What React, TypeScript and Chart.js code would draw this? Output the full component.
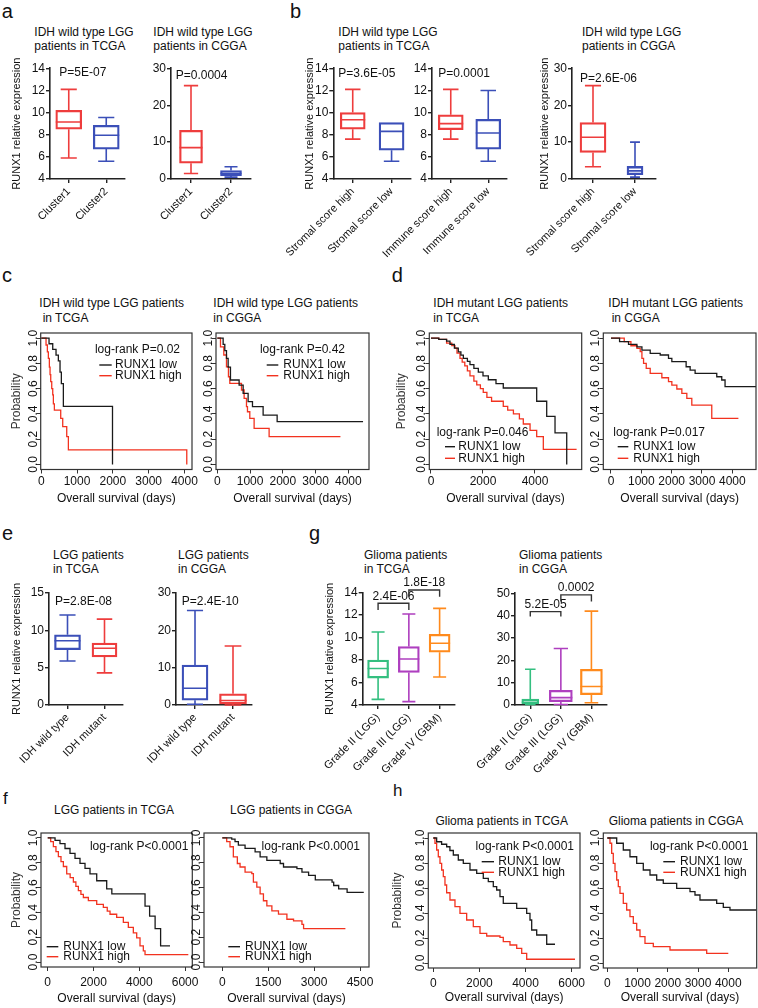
import React, { useEffect, useRef } from 'react';
import { Chart, registerables } from 'chart.js';

Chart.register(...registerables);

const FONT = "'Liberation Sans', Arial, Helvetica, sans-serif";
Chart.defaults.font.family = FONT;
Chart.defaults.color = '#111';

const AX = '#222';
const RED = '#ee3d3d';
const BLUE = '#3b4fb8';
const GREEN = '#34bf80';
const PURPLE = '#ae3fbf';
const ORANGE = '#ff8a1c';
const KM_LOW = '#1a1a1a';
const KM_HIGH = '#f2321f';

// ---------- categories ----------
const clusterCats = ['Cluster1', 'Cluster2'];
const stromalCats = ['Stromal score high', 'Stromal score low'];
const immuneCats = ['Immune score high', 'Immune score low'];
const idhCats = ['IDH wild type', 'IDH mutant'];
const gradeCats = ['Grade II (LGG)', 'Grade III (LGG)', 'Grade IV (GBM)'];

// ---------- box stats: [min, q1, median, q3, max] ----------
const aTcgaStats = [[5.9, 8.5, 9.15, 10.2, 12.1], [5.6, 6.7, 7.95, 8.85, 9.55]];
const aCggaStats = [[1.5, 4.3, 8.5, 13.2, 25.3], [0.5, 0.9, 1.5, 2.3, 3.3]];
const bStromalTcgaStats = [[7.6, 8.5, 9.35, 10.0, 12.1], [5.6, 6.6, 8.3, 9.1, 9.1]];
const bImmuneTcgaStats = [[7.6, 8.45, 9.0, 9.8, 12.1], [5.6, 6.7, 8.15, 9.4, 12.0]];
const bStromalCggaStats = [[3.3, 7.2, 11.3, 15.3, 25.3], [0.5, 1.2, 2.2, 3.4, 10.0]];
const eTcgaStats = [[5.9, 7.4, 8.6, 9.4, 12.05], [4.3, 6.45, 7.6, 8.3, 11.5]];
const eCggaStats = [[0.2, 1.3, 4.5, 10.7, 25.3], [0, 0.3, 1.2, 3.0, 15.8]];
const gTcgaStats = [[4.5, 6.4, 7.25, 8.0, 10.5], [4.3, 6.9, 8.1, 9.2, 12.1], [6.5, 8.7, 9.5, 10.3, 12.6]];
const gCggaStats = [[0.2, 0.5, 1.2, 2.7, 16], [0.2, 1.5, 3.3, 6.6, 25.3], [1.0, 4.6, 8.3, 16, 42]];

// ---------- p-values ----------
const aPvals = ['P=5E-07', 'P=0.0004'];
const bPvals = ['P=3.6E-05', 'P=0.0001', 'P=2.6E-06'];
const ePvals = ['P=2.8E-08', 'P=2.4E-10'];
const gTcgaBrackets = [
  { a: 0, b: 1, top: 13.06, drop: 12.46, label: '2.4E-06' },
  { a: 1, b: 2, top: 14.24, drop: 13.64, label: '1.8E-18' },
];
const gCggaBrackets = [
  { a: 0, b: 1, top: 41.8, drop: 39.6, label: '5.2E-05' },
  { a: 1, b: 2, top: 49.3, drop: 46.3, label: '0.0002' },
];

// ---------- Kaplan-Meier tick labels ----------
const kmYTicks = [0, 0.2, 0.4, 0.6, 0.8, 1.0];
const ticks1000 = [0, 1000, 2000, 3000, 4000];
const ticks2000to4000 = [0, 2000, 4000];
const ticks2000to6000 = [0, 2000, 4000, 6000];
const ticks1500 = [0, 1500, 3000, 4500];

// ---------- Kaplan-Meier curves: [days, survival] ----------
const c1Low = [[0, 1], [218, 0.955], [321, 0.91], [413, 0.865], [478, 0.82], [525, 0.73], [562, 0.64], [618, 0.46], [1990, 0]];
const c1High = [[0, 1], [134, 0.945], [171, 0.89], [199, 0.84], [227, 0.77], [246, 0.71], [265, 0.655], [293, 0.6], [321, 0.55], [339, 0.48], [367, 0.43], [544, 0.365], [600, 0.3], [712, 0.22], [758, 0.115], [4064, 0]];
const c2Low = [[0, 1], [178, 0.95], [229, 0.9], [280, 0.84], [331, 0.77], [402, 0.668], [666, 0.628], [789, 0.563], [941, 0.497], [1074, 0.457], [1399, 0.391], [1827, 0.339], [4450, 0.339]];
const c2High = [[0, 1], [97, 0.93], [198, 0.866], [280, 0.773], [340, 0.694], [382, 0.642], [738, 0.589], [819, 0.523], [891, 0.457], [921, 0.417], [992, 0.365], [1124, 0.286], [1582, 0.22], [3760, 0.22]];
const d1Low = [[0, 1], [300, 0.99], [600, 0.975], [730, 0.95], [900, 0.92], [1050, 0.89], [1150, 0.865], [1245, 0.84], [1400, 0.815], [1500, 0.79], [1650, 0.76], [1820, 0.73], [2000, 0.7], [2205, 0.67], [2500, 0.64], [2780, 0.605], [4065, 0.5], [4450, 0.38], [4770, 0.25], [5220, 0]];
const d1High = [[0, 1], [300, 0.99], [600, 0.96], [800, 0.94], [920, 0.92], [1000, 0.88], [1115, 0.84], [1200, 0.81], [1300, 0.78], [1400, 0.74], [1500, 0.7], [1650, 0.66], [1760, 0.63], [1900, 0.6], [2010, 0.57], [2150, 0.53], [2330, 0.5], [2780, 0.46], [2950, 0.43], [3170, 0.4], [3400, 0.36], [3550, 0.32], [3810, 0.27], [4065, 0.22], [4320, 0.12], [5600, 0.12]];
const d2Low = [[0, 1], [283, 0.971], [579, 0.95], [855, 0.931], [1020, 0.905], [1293, 0.879], [1622, 0.866], [1896, 0.84], [2006, 0.813], [2477, 0.773], [2609, 0.747], [2773, 0.721], [3487, 0.694], [3651, 0.668], [3760, 0.615], [4780, 0.615]];
const d2High = [[0, 1], [437, 0.971], [657, 0.939], [855, 0.918], [964, 0.892], [1020, 0.84], [1074, 0.8], [1162, 0.76], [1293, 0.721], [1677, 0.686], [1896, 0.655], [2006, 0.628], [2171, 0.597], [2336, 0.563], [2500, 0.523], [2664, 0.47], [3322, 0.365], [4200, 0.365]];
const f1Low = [[0, 1], [320, 0.98], [537, 0.955], [755, 0.915], [974, 0.875], [1192, 0.835], [1410, 0.795], [1629, 0.755], [1847, 0.71], [2140, 0.655], [2576, 0.59], [2800, 0.55], [4250, 0.45], [4450, 0.37], [4690, 0.27], [4930, 0.13], [5340, 0.13]];
const f1High = [[0, 1], [130, 0.97], [247, 0.93], [360, 0.89], [466, 0.85], [580, 0.81], [684, 0.77], [830, 0.71], [980, 0.68], [1121, 0.645], [1230, 0.61], [1339, 0.575], [1450, 0.545], [1557, 0.52], [1775, 0.495], [2140, 0.465], [2430, 0.44], [2600, 0.41], [2721, 0.385], [3012, 0.36], [3303, 0.32], [3521, 0.28], [3739, 0.235], [3886, 0.195], [4031, 0.13], [4175, 0.09], [4250, 0.06], [6140, 0.06]];
const f2Low = [[0, 1], [308, 0.99], [416, 0.97], [525, 0.943], [744, 0.916], [1072, 0.888], [1236, 0.847], [1456, 0.82], [1892, 0.794], [2000, 0.766], [2439, 0.753], [2603, 0.725], [2820, 0.698], [3039, 0.663], [3587, 0.644], [3640, 0.617], [3803, 0.59], [4079, 0.562], [4623, 0.562]];
const f2High = [[0, 1], [144, 0.97], [252, 0.929], [361, 0.847], [492, 0.794], [580, 0.766], [744, 0.725], [964, 0.712], [1016, 0.644], [1128, 0.603], [1236, 0.549], [1344, 0.494], [1456, 0.453], [1620, 0.413], [1836, 0.386], [2111, 0.345], [2328, 0.331], [2603, 0.304], [2656, 0.27], [4023, 0.27]];
const h1Low = [[0, 1], [145, 0.97], [360, 0.95], [580, 0.93], [720, 0.9], [868, 0.864], [1084, 0.824], [1301, 0.797], [1591, 0.744], [1882, 0.717], [2168, 0.677], [2385, 0.651], [2602, 0.611], [2749, 0.584], [2892, 0.531], [3035, 0.477], [3617, 0.437], [4050, 0.397], [4193, 0.344], [4267, 0.264], [4484, 0.224], [4918, 0.15], [5278, 0.15]];
const h1High = [[0, 1], [72, 0.958], [145, 0.904], [217, 0.85], [290, 0.797], [362, 0.744], [434, 0.691], [506, 0.624], [578, 0.562], [723, 0.504], [940, 0.451], [1157, 0.397], [1447, 0.344], [1735, 0.291], [2025, 0.237], [2316, 0.216], [2892, 0.205], [3035, 0.171], [3326, 0.144], [3617, 0.117], [3834, 0.077], [4050, 0.03], [6145, 0.03]];
const h2Low = [[0, 1], [311, 0.958], [529, 0.904], [750, 0.85], [972, 0.797], [1190, 0.744], [1412, 0.704], [1633, 0.664], [1851, 0.637], [2294, 0.597], [2734, 0.571], [2899, 0.544], [3064, 0.504], [3616, 0.477], [3835, 0.445], [4056, 0.424], [4939, 0.424]];
const h2High = [[0, 1], [89, 0.958], [145, 0.877], [198, 0.797], [255, 0.731], [311, 0.664], [364, 0.611], [420, 0.557], [529, 0.477], [641, 0.424], [750, 0.371], [860, 0.317], [972, 0.264], [1081, 0.211], [1246, 0.157], [1521, 0.131], [2073, 0.104], [3286, 0.077], [4000, 0.077]];

const kmPvals = ['log-rank P=0.02', 'log-rank P=0.42', 'log-rank P=0.046', 'log-rank P=0.017', 'log-rank P<0.0001'];
const kmSeries = ['RUNX1 low', 'RUNX1 high'];

// ---------- plugins ----------
const boxWhiskerPlugin = {
  id: 'boxWhisker',
  afterDatasetsDraw(chart: any, _a: any, opts: any) {
    const { ctx } = chart;
    const ys = chart.scales.y;
    const stats: number[][] = opts.stats;
    ctx.save();
    stats.forEach((s, i) => {
      const el: any = chart.getDatasetMeta(i).data[i];
      if (!el) return;
      const x = el.x;
      const w = el.width;
      const cw = w * opts.cap;
      const p = (v: number) => ys.getPixelForValue(v);
      ctx.strokeStyle = opts.colors[i];
      ctx.lineWidth = opts.lw;
      ctx.beginPath();
      ctx.moveTo(x - w / 2, p(s[2]));
      ctx.lineTo(x + w / 2, p(s[2]));
      if (s[4] > s[3]) {
        ctx.moveTo(x, p(s[3]));
        ctx.lineTo(x, p(s[4]));
        ctx.moveTo(x - cw / 2, p(s[4]));
        ctx.lineTo(x + cw / 2, p(s[4]));
      }
      if (s[0] < s[1]) {
        ctx.moveTo(x, p(s[1]));
        ctx.lineTo(x, p(s[0]));
        ctx.moveTo(x - cw / 2, p(s[0]));
        ctx.lineTo(x + cw / 2, p(s[0]));
      }
      ctx.stroke();
    });
    ctx.restore();
  },
};

const notesPlugin = {
  id: 'notes',
  afterDraw(chart: any, _a: any, opts: any) {
    const { ctx, chartArea: ca } = chart;
    ctx.save();
    if (opts.frame) {
      ctx.strokeStyle = '#333';
      ctx.lineWidth = 1.2;
      ctx.strokeRect(ca.left, ca.top, ca.right - ca.left, ca.bottom - ca.top);
    }
    ctx.fillStyle = '#111';
    ctx.font = `12px ${FONT}`;
    ctx.textBaseline = 'middle';
    if (opts.rotY) {
      const ys = chart.scales.y;
      ys.ticks.forEach((t: any) => {
        const py = ys.getPixelForValue(t.value);
        ctx.save();
        ctx.translate(ca.left - opts.rotY, py);
        ctx.rotate(-Math.PI / 2);
        ctx.textAlign = 'center';
        ctx.fillText(Number(t.value).toFixed(1), 0, 0);
        ctx.restore();
      });
    }
    (opts.texts || []).forEach((t: any) => {
      ctx.textAlign = t.align || 'left';
      ctx.fillText(t.text, ca.left + t.dx, ca.top + t.dy);
    });
    (opts.legend || []).forEach((l: any) => {
      ctx.strokeStyle = l.color;
      ctx.lineWidth = 1.4;
      ctx.beginPath();
      ctx.moveTo(ca.left + l.x0, ca.top + l.y);
      ctx.lineTo(ca.left + l.x1, ca.top + l.y);
      ctx.stroke();
      ctx.textAlign = 'left';
      ctx.fillStyle = '#111';
      ctx.fillText(l.text, ca.left + l.tx, ca.top + l.y);
    });
    const brackets = opts.brackets || [];
    if (brackets.length) {
      const xs = chart.scales.x;
      const ys = chart.scales.y;
      brackets.forEach((b: any) => {
        const xa = xs.getPixelForValue(b.a);
        const xb = xs.getPixelForValue(b.b);
        const yt = ys.getPixelForValue(b.top);
        const yd = ys.getPixelForValue(b.drop);
        ctx.strokeStyle = '#333';
        ctx.lineWidth = 1.4;
        ctx.beginPath();
        ctx.moveTo(xa, yd);
        ctx.lineTo(xa, yt);
        ctx.lineTo(xb, yt);
        ctx.lineTo(xb, yd);
        ctx.stroke();
        ctx.textAlign = 'center';
        ctx.fillText(b.label, (xa + xb) / 2, yt - 7);
      });
    }
    ctx.restore();
  },
};

// ---------- layout helpers ----------
type Area = [number, number, number, number];
interface Place { left: number; top: number; w: number; h: number; wy: number; padLeft: number; padTop: number; padRight: number; padBottom: number; hx: number; }

function place(area: Area, wy: number, reachLeft: number, padTop: number, padRight: number, hx: number): Place {
  const [l, t, r, b] = area;
  const left = Math.floor(l - Math.max(wy, reachLeft));
  const top = Math.floor(t - padTop);
  const right = Math.min(758, Math.ceil(r + padRight));
  const bottom = Math.ceil(b + hx);
  return { left, top, w: right - left, h: bottom - top, wy, padLeft: l - wy - left, padTop: t - top, padRight: right - r, padBottom: bottom - b - hx, hx };
}

interface BoxSpec { area: Area; cats: string[]; stats: number[][]; colors: string[]; widths: number[]; yMin: number; yMax: number; yStep: number; yTitle?: number; note?: { text: string; dx: number; dy: number }; brackets?: any[]; padTop?: number; }

const boxSpecs: BoxSpec[] = [
  { area: [50, 68.3, 125, 179], cats: clusterCats, stats: aTcgaStats, colors: [RED, BLUE], widths: [26, 26], yMin: 4, yMax: 14, yStep: 2, yTitle: 16.7, note: { text: aPvals[0], dx: 9.3, dy: 4.4 } },
  { area: [171, 68.3, 251, 179], cats: clusterCats, stats: aCggaStats, colors: [RED, BLUE], widths: [23, 21], yMin: 0, yMax: 30, yStep: 10, note: { text: aPvals[1], dx: 4.7, dy: 7.7 } },
  { area: [333.3, 68.3, 411, 179], cats: stromalCats, stats: bStromalTcgaStats, colors: [RED, BLUE], widths: [25, 25], yMin: 4, yMax: 14, yStep: 2, yTitle: 310, note: { text: bPvals[0], dx: 5, dy: 5 } },
  { area: [432, 68.3, 507, 179], cats: immuneCats, stats: bImmuneTcgaStats, colors: [RED, BLUE], widths: [25, 25], yMin: 4, yMax: 14, yStep: 2, note: { text: bPvals[1], dx: 6.3, dy: 5.7 } },
  { area: [572, 68.3, 656, 179], cats: stromalCats, stats: bStromalCggaStats, colors: [RED, BLUE], widths: [26, 16], yMin: 0, yMax: 30, yStep: 10, yTitle: 545, note: { text: bPvals[2], dx: 8, dy: 10 } },
  { area: [49, 593, 123, 705], cats: idhCats, stats: eTcgaStats, colors: [BLUE, RED], widths: [26, 25], yMin: 0, yMax: 15, yStep: 5, yTitle: 17, note: { text: ePvals[0], dx: 6, dy: 8.7 } },
  { area: [176, 593, 252, 705], cats: idhCats, stats: eCggaStats, colors: [BLUE, RED], widths: [26, 27], yMin: 0, yMax: 30, yStep: 10, note: { text: ePvals[1], dx: 5.7, dy: 8.7 } },
  { area: [362.7, 592.7, 455, 705], cats: gradeCats, stats: gTcgaStats, colors: [GREEN, PURPLE, ORANGE], widths: [21, 21, 21], yMin: 4, yMax: 14, yStep: 2, yTitle: 330, brackets: gTcgaBrackets, padTop: 26 },
  { area: [515, 593.3, 606.7, 705], cats: gradeCats, stats: gCggaStats, colors: [GREEN, PURPLE, ORANGE], widths: [17, 23, 22], yMin: 0, yMax: 50, yStep: 10, brackets: gCggaBrackets, padTop: 26 },
];

interface KMSpec { area: Area; xMin: number; xMax: number; xTicks: number[]; low: number[][]; high: number[][]; yTitle?: number; xTitleCy: number; xTickPad: number; logrank: { text: string; dx: number; dy: number; align: string }; leg: { x0: number; x1: number; tx: number; y1: number; y2: number }; }

const kmSpecs: KMSpec[] = [
  { area: [40.7, 333, 192, 469.5], xMin: -15, xMax: 4210, xTicks: ticks1000, low: c1Low, high: c1High, yTitle: 17, xTitleCy: 498.3, xTickPad: 0.5, logrank: { text: kmPvals[0], dx: 139.3, dy: 17, align: 'right' }, leg: { x0: 58.6, x1: 71, tx: 74.3, y1: 32, y2: 42.7 } },
  { area: [216, 333, 369, 469.5], xMin: -40, xMax: 4632, xTicks: ticks1000, low: c2Low, high: c2High, xTitleCy: 498.3, xTickPad: 0.5, logrank: { text: kmPvals[1], dx: 129, dy: 17, align: 'right' }, leg: { x0: 50.7, x1: 62.3, tx: 67.3, y1: 32, y2: 42.7 } },
  { area: [429.3, 333, 581.7, 469.5], xMin: -65, xMax: 5796, xTicks: ticks2000to4000, low: d1Low, high: d1High, yTitle: 401.7, xTitleCy: 498.3, xTickPad: 0.5, logrank: { text: kmPvals[2], dx: 7.4, dy: 99.7, align: 'left' }, leg: { x0: 15.7, x1: 25.7, tx: 29, y1: 113.7, y2: 125.3 } },
  { area: [603.3, 333, 756, 469.5], xMin: -253, xMax: 4780, xTicks: ticks1000, low: d2Low, high: d2High, xTitleCy: 498.3, xTickPad: 0.5, logrank: { text: kmPvals[3], dx: 10, dy: 99.7, align: 'left' }, leg: { x0: 14.4, x1: 25, tx: 30, y1: 113.7, y2: 125.3 } },
  { area: [41, 833, 192.3, 967], xMin: -293, xMax: 6314, xTicks: ticks2000to6000, low: f1Low, high: f1High, yTitle: 17, xTitleCy: 998.3, xTickPad: 4.5, logrank: { text: kmPvals[4], dx: 147.3, dy: 14, align: 'right' }, leg: { x0: 5.7, x1: 17.3, tx: 22.3, y1: 113.7, y2: 123.7 } },
  { area: [204, 833, 369, 967], xMin: -598, xMax: 4794, xTicks: ticks1500, low: f2Low, high: f2High, xTitleCy: 998.3, xTickPad: 4.5, logrank: { text: kmPvals[4], dx: 156, dy: 14, align: 'right' }, leg: { x0: 24.3, x1: 36, tx: 41, y1: 113.7, y2: 123.7 } },
  { area: [428.3, 833, 580, 968], xMin: -217, xMax: 6362, xTicks: ticks2000to6000, low: h1Low, high: h1High, yTitle: 398, xTitleCy: 997.7, xTickPad: 4.1, logrank: { text: kmPvals[4], dx: 145.7, dy: 14, align: 'right' }, leg: { x0: 53.4, x1: 65.7, tx: 70, y1: 28.7, y2: 39.3 } },
  { area: [603.3, 833, 756.7, 968], xMin: -132, xMax: 4939, xTicks: ticks1000, low: h2Low, high: h2High, xTitleCy: 997.7, xTickPad: 4.1, logrank: { text: kmPvals[4], dx: 145, dy: 14, align: 'right' }, leg: { x0: 60, x1: 71.7, tx: 76.7, y1: 28.7, y2: 39.3 } },
];

function boxPlace(s: BoxSpec): Place {
  const wy = s.yTitle !== undefined ? s.area[0] - (s.yTitle - 6.6) : 30;
  return place(s.area, wy, 75, s.padTop ?? 12, 8, 88);
}

function kmPlace(s: KMSpec): Place {
  const wy = s.yTitle !== undefined ? s.area[0] - (s.yTitle - 7.2) : 30;
  return place(s.area, wy, wy, 6, 6, s.xTitleCy + 7.2 - s.area[3]);
}

function axisGrid(color: string, lw: number, offset = false) {
  return { display: true, offset, drawOnChartArea: false, drawTicks: true, tickLength: 4, color, lineWidth: lw };
}

function boxConfig(s: BoxSpec, p: Place): any {
  return {
    type: 'bar',
    data: {
      labels: s.cats,
      datasets: s.stats.map((st, i) => ({
        data: s.cats.map((_, j) => (j === i ? [st[1], st[3]] : null)),
        borderColor: s.colors[i],
        backgroundColor: 'rgba(255,255,255,0)',
        borderWidth: 1.6,
        borderSkipped: false,
        barThickness: s.widths[i],
        grouped: false,
      })),
    },
    options: {
      animation: false,
      responsive: false,
      events: [],
      layout: { padding: { left: p.padLeft, top: p.padTop, right: p.padRight, bottom: p.padBottom } },
      plugins: {
        legend: { display: false },
        tooltip: { enabled: false },
        boxWhisker: { stats: s.stats, colors: s.colors, cap: 0.62, lw: 1.6 },
        notes: { texts: s.note ? [{ ...s.note, align: 'left' }] : [], brackets: s.brackets || [] },
      },
      scales: {
        x: {
          type: 'category',
          offset: true,
          grid: axisGrid(AX, 1.4, false),
          border: { display: true, color: AX, width: 1.6 },
          ticks: { font: { size: 11 }, color: '#111', minRotation: 45, maxRotation: 45, autoSkip: false, padding: 2 },
          afterFit: (sc: any) => { sc.height = p.hx; sc.paddingLeft = 0; sc.paddingRight = 0; },
        },
        y: {
          type: 'linear',
          min: s.yMin,
          max: s.yMax,
          grid: axisGrid(AX, 1.4),
          border: { display: true, color: AX, width: 1.6 },
          ticks: { stepSize: s.yStep, font: { size: 12 }, color: '#111', padding: 1, autoSkip: false },
          title: { display: s.yTitle !== undefined, text: 'RUNX1 relative expression', font: { size: 11 }, color: '#111', padding: 0 },
          afterFit: (sc: any) => { sc.width = p.wy; sc.paddingTop = 0; sc.paddingBottom = 0; },
        },
      },
    },
    plugins: [boxWhiskerPlugin, notesPlugin],
  };
}

function kmConfig(s: KMSpec, p: Place): any {
  const ds = (pts: number[][], color: string) => ({
    data: pts.map(([x, y]) => ({ x, y })),
    borderColor: color,
    backgroundColor: color,
    borderWidth: 1.3,
    pointRadius: 0,
    stepped: true,
    fill: false,
  });
  return {
    type: 'line',
    data: { datasets: [ds(s.low, KM_LOW), ds(s.high, KM_HIGH)] },
    options: {
      animation: false,
      responsive: false,
      events: [],
      layout: { padding: { left: p.padLeft, top: p.padTop, right: p.padRight, bottom: p.padBottom } },
      plugins: {
        legend: { display: false },
        tooltip: { enabled: false },
        notes: {
          frame: true,
          rotY: 7.5,
          texts: [s.logrank],
          legend: [
            { color: KM_LOW, text: kmSeries[0], x0: s.leg.x0, x1: s.leg.x1, tx: s.leg.tx, y: s.leg.y1 },
            { color: KM_HIGH, text: kmSeries[1], x0: s.leg.x0, x1: s.leg.x1, tx: s.leg.tx, y: s.leg.y2 },
          ],
        },
      },
      scales: {
        x: {
          type: 'linear',
          min: s.xMin,
          max: s.xMax,
          grid: axisGrid('#333', 1),
          border: { display: false },
          ticks: { autoSkip: false, minRotation: 0, maxRotation: 0, padding: s.xTickPad, font: { size: 12 }, color: '#111', callback: (v: any) => String(v) },
          afterBuildTicks: (sc: any) => { sc.ticks = s.xTicks.map((v) => ({ value: v })); },
          title: { display: true, text: 'Overall survival (days)', font: { size: 12 }, color: '#111', padding: 0 },
          afterFit: (sc: any) => { sc.height = p.hx; sc.paddingLeft = 0; sc.paddingRight = 0; },
        },
        y: {
          type: 'linear',
          min: -0.04,
          max: 1.04,
          grid: axisGrid('#333', 1),
          border: { display: false },
          ticks: { display: false, autoSkip: false },
          afterBuildTicks: (sc: any) => { sc.ticks = kmYTicks.map((v) => ({ value: v })); },
          title: { display: s.yTitle !== undefined, text: 'Probability', font: { size: 12 }, color: '#333', padding: 0 },
          afterFit: (sc: any) => { sc.width = p.wy; sc.paddingTop = 0; sc.paddingBottom = 0; },
        },
      },
    },
    plugins: [notesPlugin],
  };
}

function ChartCanvas({ p, config }: { p: Place; config: any }) {
  const ref = useRef<HTMLCanvasElement>(null);
  useEffect(() => {
    const chart = new Chart(ref.current as HTMLCanvasElement, config);
    return () => chart.destroy();
  }, []);
  return (
    <canvas
      ref={ref}
      width={p.w}
      height={p.h}
      style={{ position: 'absolute', left: p.left, top: p.top, width: p.w, height: p.h }}
    />
  );
}

// ---------- text (titles, panel letters) ----------
const letters = [
  { t: 'a', x: 1.7, base: 18.3, fs: 20 },
  { t: 'b', x: 290, base: 18.3, fs: 20 },
  { t: 'c', x: 2, base: 281.7, fs: 20 },
  { t: 'd', x: 391.7, base: 281.7, fs: 20 },
  { t: 'e', x: 2, base: 540, fs: 20 },
  { t: 'g', x: 309, base: 540, fs: 20 },
  { t: 'f', x: 3, base: 804, fs: 17 },
  { t: 'h', x: 393, base: 796.7, fs: 17 },
];

const leftTitles = [
  { lines: ['IDH wild type LGG', 'patients in TCGA'], x: 34.3, y: 31.7, gap: 14 },
  { lines: ['IDH wild type LGG', 'patients in CGGA'], x: 153.3, y: 31.7, gap: 14 },
  { lines: ['IDH wild type LGG', 'patients in TCGA'], x: 338.3, y: 31.7, gap: 14 },
  { lines: ['IDH wild type LGG', 'patients in CGGA'], x: 582, y: 31.7, gap: 14 },
  { lines: ['IDH wild type LGG patients', ' in TCGA'], x: 39.3, y: 303.3, gap: 15 },
  { lines: ['IDH wild type LGG patients', 'in CGGA'], x: 213.3, y: 303.3, gap: 15 },
  { lines: ['IDH mutant LGG patients', 'in TCGA'], x: 433.3, y: 303.3, gap: 15 },
  { lines: ['IDH mutant LGG patients', ' in CGGA'], x: 608.3, y: 303.3, gap: 15 },
  { lines: ['LGG patients', 'in TCGA'], x: 53, y: 555, gap: 14.3 },
  { lines: ['LGG patients', 'in CGGA'], x: 178, y: 555, gap: 14.3 },
  { lines: ['Glioma patients', 'in TCGA'], x: 364, y: 555, gap: 14.3 },
  { lines: ['Glioma patients', 'in CGGA'], x: 519, y: 555, gap: 14.3 },
];

const centerTitles = [
  { t: 'LGG patients in TCGA', cx: 114, y: 810 },
  { t: 'LGG patients in CGGA', cx: 291, y: 810 },
  { t: 'Glioma patients in TCGA', cx: 501.7, y: 821 },
  { t: 'Glioma patients in CGGA', cx: 676, y: 821 },
];

export default function App() {
  return (
    <div
      style={{
        position: 'absolute', left: 0, top: 0, width: 758, height: 1008, overflow: 'hidden',
        background: '#fff', fontFamily: FONT, color: '#111',
      }}
    >
      {letters.map((l, i) => (
        <div key={'l' + i} style={{ position: 'absolute', left: l.x, top: l.base - 0.8465 * l.fs, fontSize: l.fs, lineHeight: `${l.fs}px`, whiteSpace: 'pre' }}>{l.t}</div>
      ))}
      {leftTitles.map((t, i) =>
        t.lines.map((ln, j) => (
          <div key={`t${i}-${j}`} style={{ position: 'absolute', left: t.x, top: t.y + j * t.gap - 5.9, fontSize: 12, lineHeight: '12px', whiteSpace: 'pre' }}>{ln}</div>
        ))
      )}
      {centerTitles.map((t, i) => (
        <div key={'c' + i} style={{ position: 'absolute', left: t.cx - 100, width: 200, textAlign: 'center', top: t.y - 5.9, fontSize: 12, lineHeight: '12px', whiteSpace: 'pre' }}>{t.t}</div>
      ))}
      {boxSpecs.map((s, i) => {
        const p = boxPlace(s);
        return <ChartCanvas key={'b' + i} p={p} config={boxConfig(s, p)} />;
      })}
      {kmSpecs.map((s, i) => {
        const p = kmPlace(s);
        return <ChartCanvas key={'k' + i} p={p} config={kmConfig(s, p)} />;
      })}
    </div>
  );
}
